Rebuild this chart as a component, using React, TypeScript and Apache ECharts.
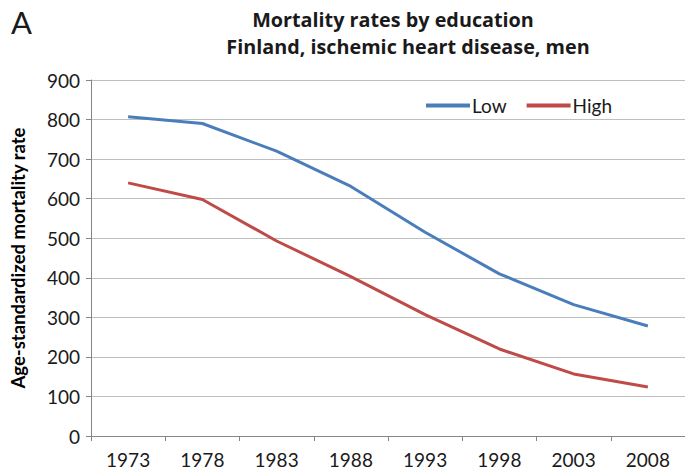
import React, { useEffect, useRef } from "react";
import * as echarts from "echarts";

const years = ["1973", "1978", "1983", "1988", "1993", "1998", "2003", "2008"];
const lowValues = [807, 790, 720, 631, 515, 410, 332, 278];
const highValues = [640, 598, 493, 403, 307, 220, 157, 124];
const titleLine1 = "Mortality rates by education";
const titleLine2 = "Finland, ischemic heart disease, men";
const yAxisTitle = "Age-standardized mortality rate";

const FONT = "Lato, 'Open Sans', sans-serif";
const TITLE_FONT = "'Open Sans', 'Noto Sans', sans-serif";

export default function App() {
  const ref = useRef<HTMLDivElement>(null);
  useEffect(() => {
    if (!ref.current) return;
    const chart = echarts.init(ref.current, null, { renderer: "svg" });
    chart.setOption({
      animation: false,
      backgroundColor: "#ffffff",
      textStyle: { fontFamily: FONT },
      graphic: [
        {
          type: "text",
          left: 11,
          top: 6,
          style: { text: "A", fontSize: 31, fontFamily: FONT, fill: "#1a1a1a" },
        },
        {
          type: "text",
          x: 393,
          y: 19,
          style: {
            text: titleLine1,
            fontSize: 19.8,
            fontWeight: "bold",
            fontFamily: TITLE_FONT,
            fill: "#1a1a1a",
            align: "center",
            verticalAlign: "middle",
          },
        },
        {
          type: "text",
          x: 408,
          y: 46,
          style: {
            text: titleLine2,
            fontSize: 19.8,
            fontWeight: "bold",
            fontFamily: TITLE_FONT,
            fill: "#1a1a1a",
            align: "center",
            verticalAlign: "middle",
          },
        },
      ],
      legend: {
        left: 421,
        top: 91,
        icon: "rect",
        itemWidth: 44,
        itemHeight: 4,
        itemGap: 20,
        textStyle: { fontSize: 19, color: "#1a1a1a", fontFamily: FONT, padding: [0, 0, 0, -3] },
        data: ["Low", "High"],
      },
      grid: { left: 90, right: -13, top: 80, bottom: 38, containLabel: false },
      xAxis: {
        type: "category",
        data: years,
        boundaryGap: true,
        axisLine: { lineStyle: { color: "#868686", width: 1 } },
        axisTick: { show: true, length: 5, lineStyle: { color: "#868686" } },
        axisLabel: { fontSize: 19, color: "#1a1a1a", margin: 14, fontFamily: FONT },
        splitLine: { show: false },
      },
      yAxis: {
        type: "value",
        min: 0,
        max: 900,
        interval: 100,
        name: yAxisTitle,
        nameLocation: "middle",
        nameGap: 64,
        nameTextStyle: { fontSize: 18.5, fontWeight: "bold", color: "#000000", fontFamily: FONT },
        axisLine: { show: true, lineStyle: { color: "#868686", width: 1 } },
        axisTick: { show: true, length: 5, lineStyle: { color: "#868686" } },
        axisLabel: { fontSize: 19, color: "#1a1a1a", margin: 11, fontFamily: FONT },
        splitLine: { show: true, lineStyle: { color: "#bfbfbf", width: 1 } },
      },
      series: [
        {
          name: "Low",
          type: "line",
          data: lowValues,
          showSymbol: false,
          symbol: "none",
          lineStyle: { color: "#4a7ebb", width: 3 },
          itemStyle: { color: "#4a7ebb" },
        },
        {
          name: "High",
          type: "line",
          data: highValues,
          showSymbol: false,
          symbol: "none",
          lineStyle: { color: "#be4b48", width: 3 },
          itemStyle: { color: "#be4b48" },
        },
      ],
    });
    return () => chart.dispose();
  }, []);
  return (
    <div
      ref={ref}
      style={{ position: "absolute", left: 0, top: 0, width: 685, height: 474 }}
    />
  );
}
